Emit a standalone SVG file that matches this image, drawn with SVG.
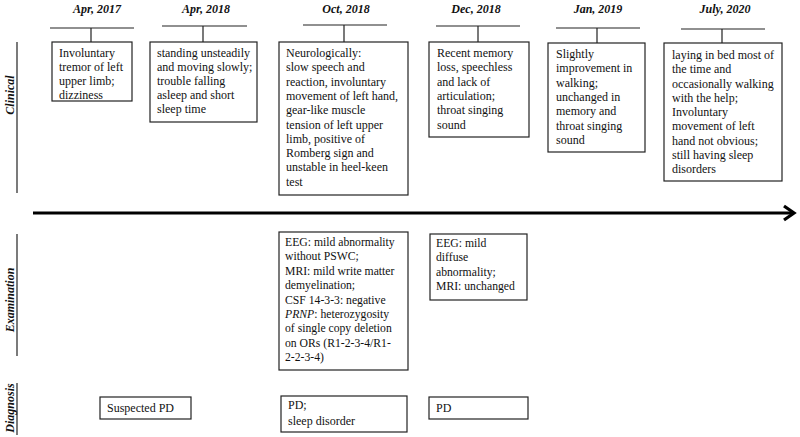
<svg xmlns="http://www.w3.org/2000/svg" width="800" height="437" viewBox="0 0 800 437">
<style>
text{font-family:"Liberation Serif","Times New Roman",serif;font-size:12px;fill:#111}
.date{font-weight:bold;font-style:italic;text-anchor:middle}
.sec{font-weight:bold;font-style:italic;text-anchor:middle}
.box{fill:#fff;stroke:#222;stroke-width:1.2}
.ln{stroke:#222;stroke-width:1.2;fill:none}
</style>
<rect width="800" height="437" fill="#fff"/>
<g id="sections">
<line class="ln" x1="17" y1="42" x2="17" y2="193"/>
<text class="sec" transform="translate(14,95) rotate(-90)">Clinical</text>
<line class="ln" x1="17" y1="234" x2="17" y2="356"/>
<text class="sec" transform="translate(14,300) rotate(-90)">Examination</text>
<line class="ln" x1="17" y1="383" x2="17" y2="435"/>
<text class="sec" transform="translate(14,408) rotate(-90)">Diagnosis</text>
</g>
<g id="dates">
<text class="date" x="97" y="13">Apr, 2017</text>
<text class="date" x="206" y="13">Apr, 2018</text>
<text class="date" x="346" y="13">Oct, 2018</text>
<text class="date" x="476" y="13">Dec, 2018</text>
<text class="date" x="598" y="13">Jan, 2019</text>
<text class="date" x="725" y="13">July, 2020</text>
</g>
<g id="connectors">
<path class="ln" d="M50 28H134M91 28V42"/>
<path class="ln" d="M162 26H247M203 26V42"/>
<path class="ln" d="M303 25H387M344 25V42"/>
<path class="ln" d="M436 26H520M478 26V42"/>
<path class="ln" d="M556 28H640M597 28V43"/>
<path class="ln" d="M681 29H765M722 29V43"/>
<line x1="33" y1="213" x2="792" y2="213" stroke="#000" stroke-width="3.2"/>
<path d="M784 206L794 213L784 220" fill="none" stroke="#000" stroke-width="3.2" stroke-linejoin="miter"/>
</g>
<g id="c1">
<rect class="box" x="52" y="42" width="80" height="59"/>
<text x="59" y="57">Involuntary<tspan x="59" y="71">tremor of left</tspan><tspan x="59" y="85">upper limb;</tspan><tspan x="59" y="98.5">dizziness</tspan></text>
</g>
<g id="c2">
<rect class="box" x="150" y="42" width="107" height="80"/>
<text x="157" y="57">standing unsteadily<tspan x="157" y="71">and moving slowly;</tspan><tspan x="157" y="85">trouble falling</tspan><tspan x="157" y="99">asleep and short</tspan><tspan x="157" y="113">sleep time</tspan></text>
</g>
<g id="c3">
<rect class="box" x="279" y="42" width="129" height="153"/>
<text x="286" y="57">Neurologically:<tspan x="286" y="71.3">slow speech and</tspan><tspan x="286" y="85.6">reaction, involuntary</tspan><tspan x="286" y="99.9">movement of left hand,</tspan><tspan x="286" y="114.2">gear-like muscle</tspan><tspan x="286" y="128.5">tension of left upper</tspan><tspan x="286" y="142.8">limb, positive of</tspan><tspan x="286" y="157.1">Romberg sign and</tspan><tspan x="286" y="171.4">unstable in heel-keen</tspan><tspan x="286" y="185.7">test</tspan></text>
</g>
<g id="c4">
<rect class="box" x="429" y="42" width="100" height="95"/>
<text x="437" y="57">Recent memory<tspan x="437" y="71.3">loss, speechless</tspan><tspan x="437" y="85.6">and lack of</tspan><tspan x="437" y="99.9">articulation;</tspan><tspan x="437" y="114.2">throat singing</tspan><tspan x="437" y="128.5">sound</tspan></text>
</g>
<g id="c5">
<rect class="box" x="548" y="43" width="97" height="109"/>
<text x="556" y="58">Slightly<tspan x="556" y="72.3">improvement in</tspan><tspan x="556" y="86.6">walking;</tspan><tspan x="556" y="100.9">unchanged in</tspan><tspan x="556" y="115.2">memory and</tspan><tspan x="556" y="129.5">throat singing</tspan><tspan x="556" y="143.8">sound</tspan></text>
</g>
<g id="c6">
<rect class="box" x="664" y="43" width="118" height="138"/>
<text x="672" y="59">laying in bed most of<tspan x="672" y="73.25">the time and</tspan><tspan x="672" y="87.5">occasionally walking</tspan><tspan x="672" y="101.75">with the help;</tspan><tspan x="672" y="116">Involuntary</tspan><tspan x="672" y="130.25">movement of left</tspan><tspan x="672" y="144.5">hand not obvious;</tspan><tspan x="672" y="158.75">still having sleep</tspan><tspan x="672" y="173">disorders</tspan></text>
</g>
<g id="e3">
<rect class="box" x="279" y="232" width="129" height="138"/>
<text x="285" y="246" style="font-size:11.7px">EEG: mild abnormality<tspan x="285" y="260.4">without PSWC;</tspan><tspan x="285" y="274.8">MRI: mild write matter</tspan><tspan x="285" y="289.2">demyelination;</tspan><tspan x="285" y="303.6">CSF 14-3-3: negative</tspan><tspan x="285" y="318"><tspan font-style="italic">PRNP</tspan>: heterozygosity</tspan><tspan x="285" y="332.4">of single copy deletion</tspan><tspan x="285" y="346.8">on ORs (R1-2-3-4/R1-</tspan><tspan x="285" y="361.2">2-2-3-4)</tspan></text>
</g>
<g id="e4">
<rect class="box" x="430" y="234" width="97" height="66"/>
<text x="436" y="247" style="font-size:11.7px">EEG: mild<tspan x="436" y="261.4">diffuse</tspan><tspan x="436" y="275.8">abnormality;</tspan><tspan x="436" y="290.2">MRI: unchanged</tspan></text>
</g>
<g id="d1">
<rect class="box" x="100" y="397" width="91" height="22"/>
<text x="107" y="412">Suspected PD</text>
</g>
<g id="d3">
<rect class="box" x="281" y="396" width="126" height="36"/>
<text x="288" y="409">PD;<tspan x="288" y="425">sleep disorder</tspan></text>
</g>
<g id="d4">
<rect class="box" x="429" y="397" width="99" height="22"/>
<text x="436" y="412">PD</text>
</g>
</svg>
